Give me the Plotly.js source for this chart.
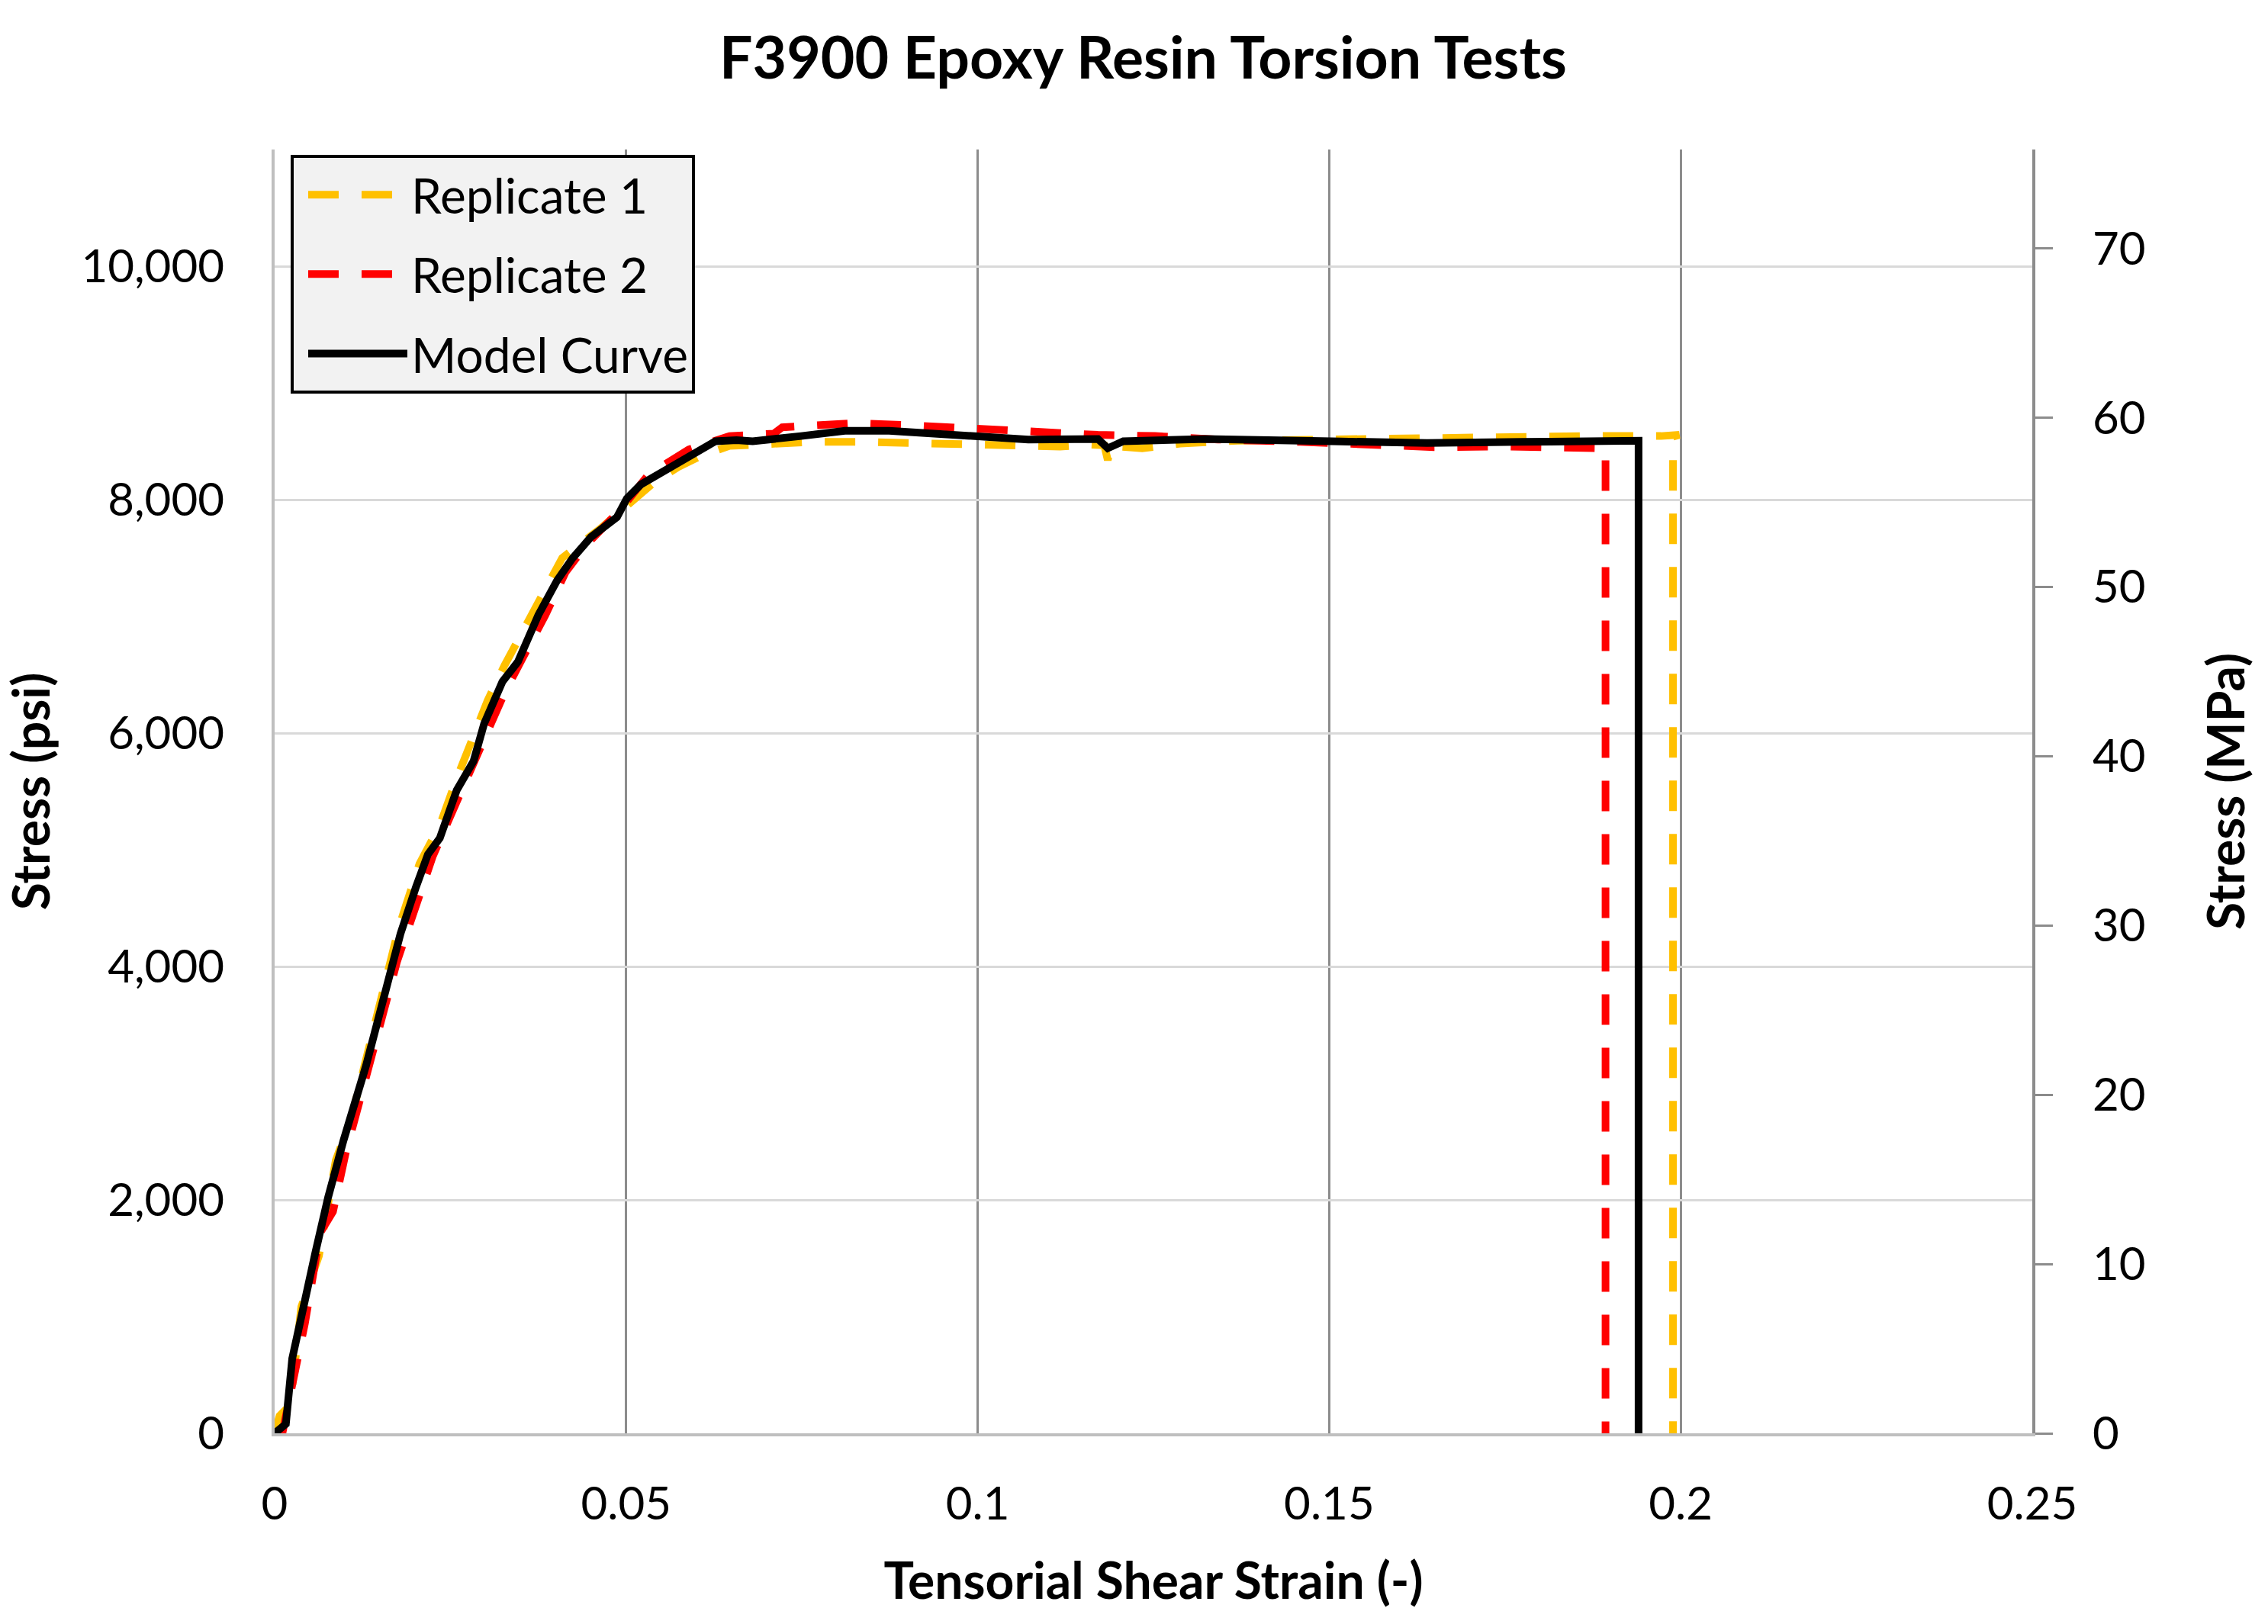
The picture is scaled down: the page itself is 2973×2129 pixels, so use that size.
<!DOCTYPE html>
<html><head><meta charset="utf-8">
<script src="https://cdn.plot.ly/plotly-3.0.1.min.js"></script>
<style>html,body{margin:0;padding:0;background:#fff}#chart{width:2973px;height:2129px}</style>
</head><body><div id="chart"></div>
<script>
// ---- data ----
const chartTitle = "F3900 Epoxy Resin Torsion Tests";
const xTitle = "Tensorial Shear Strain (-)";
const yTitle = "Stress (psi)";
const y2Title = "Stress (MPa)";
const seriesNames = ["Replicate 1", "Replicate 2", "Model Curve"];

const rep1Strain = [0, 0.0007, 0.0022, 0.0038, 0.0063, 0.0087, 0.0110, 0.0130, 0.0145, 0.0163, 0.0177, 0.0206, 0.0235, 0.0259, 0.0281, 0.0303, 0.0327, 0.0356, 0.0385, 0.0409, 0.0463, 0.0506, 0.0540, 0.0574, 0.0608, 0.0647, 0.0705, 0.0766, 0.0837, 0.0928, 0.1009, 0.1063, 0.1117, 0.1162, 0.1180, 0.1185, 0.1190, 0.1234, 0.1288, 0.1370, 0.1504, 0.1684, 0.1864, 0.1972, 0.1998, 0.1989, 0.1989];
const rep1Stress = [0, 150, 240, 1085, 1520, 2340, 2720, 3210, 3590, 4060, 4340, 4880, 5210, 5610, 5950, 6280, 6580, 6910, 7250, 7500, 7750, 7980, 8150, 8280, 8380, 8460, 8480, 8495, 8495, 8480, 8470, 8455, 8455, 8470, 8465, 8340, 8460, 8440, 8480, 8505, 8520, 8530, 8545, 8545, 8555, 8540, 0];

const rep2Strain = [0, 0.0011, 0.0029, 0.0043, 0.0065, 0.0083, 0.0101, 0.0134, 0.0156, 0.0174, 0.0225, 0.0269, 0.0327, 0.0356, 0.0385, 0.0414, 0.0443, 0.0492, 0.0531, 0.0589, 0.0647, 0.0710, 0.0722, 0.0766, 0.0825, 0.0892, 0.0955, 0.1027, 0.1099, 0.1171, 0.1252, 0.1342, 0.1459, 0.1550, 0.1649, 0.1747, 0.1846, 0.1887, 0.1893, 0.1893];
const rep2Stress = [0, 0, 530, 940, 1720, 1900, 2400, 3150, 3620, 4040, 4945, 5545, 6345, 6680, 7010, 7380, 7610, 7915, 8210, 8430, 8545, 8565, 8620, 8635, 8655, 8640, 8620, 8590, 8575, 8555, 8545, 8515, 8495, 8475, 8450, 8455, 8450, 8450, 8440, 0];

const modelStrain = [0, 0.0016, 0.0025, 0.0036, 0.0058, 0.0076, 0.0098, 0.0130, 0.0159, 0.0179, 0.0201, 0.0218, 0.0235, 0.0245, 0.0259, 0.0283, 0.0298, 0.0324, 0.0346, 0.0375, 0.0402, 0.0424, 0.0450, 0.0487, 0.0501, 0.0521, 0.0560, 0.0598, 0.0627, 0.0657, 0.0680, 0.0749, 0.0811, 0.0874, 0.1000, 0.1072, 0.1171, 0.1185, 0.1207, 0.1324, 0.1504, 0.1639, 0.1774, 0.1936, 0.1940, 0.1940];
const modelStress = [0, 80, 640, 970, 1550, 2020, 2510, 3150, 3790, 4280, 4680, 4960, 5100, 5280, 5510, 5760, 6080, 6440, 6610, 7010, 7310, 7500, 7680, 7850, 8010, 8130, 8270, 8410, 8500, 8510, 8500, 8545, 8590, 8590, 8545, 8515, 8520, 8440, 8500, 8520, 8500, 8485, 8495, 8505, 8505, 0];

const xTickVals = [0, 0.05, 0.1, 0.15, 0.2, 0.25];
const xTickText = ["0", "0.05", "0.1", "0.15", "0.2", "0.25"];
const yTickVals = [0, 2000, 4000, 6000, 8000, 10000];
const y2TickVals = [0, 10, 20, 30, 40, 50, 60, 70];
const psiMax = 11000;
const psiToMPa = 0.00689476;

// ---- chart ----
const FONT = "Lato, 'Open Sans', sans-serif";
const traces = [
  {x: rep1Strain, y: rep1Stress, name: seriesNames[0], type: 'scatter', mode: 'lines', legendgroup: 'a',
   line: {color: '#FFC000', width: 10, dash: '40px,30px'}},
  {x: rep2Strain, y: rep2Stress, name: seriesNames[1], type: 'scatter', mode: 'lines', legendgroup: 'b',
   line: {color: '#FF0000', width: 10, dash: '40px,30px'}},
  {x: modelStrain, y: modelStress, name: seriesNames[2], type: 'scatter', mode: 'lines', legendgroup: 'c',
   line: {color: '#000000', width: 10}},
  // empty trace that only registers the secondary (MPa) axis
  {x: [], y: [], yaxis: 'y2', type: 'scatter', mode: 'lines', showlegend: false, hoverinfo: 'skip', legendgroup: 'd'}
];

const layout = {
  width: 2973, height: 2129,
  paper_bgcolor: '#ffffff', plot_bgcolor: '#ffffff',
  margin: {l: 360, r: 309, t: 196, b: 250},
  font: {family: FONT, color: '#000000', size: 60},
  title: {text: chartTitle, font: {family: FONT, size: 77, weight: 'bold', color: '#000'},
          xref: 'container', yref: 'container', x: 0.504, y: 0.9643, xanchor: 'center', yanchor: 'middle'},
  showlegend: true,
  legend: {x: 0.0091, y: 0.9958, xanchor: 'left', yanchor: 'top', bgcolor: '#f2f2f2',
           bordercolor: '#000000', borderwidth: 4, font: {family: FONT, size: 64, color: '#000'},
           tracegroupgap: 18, itemwidth: 130, indentation: 14, traceorder: 'grouped'},
  xaxis: {range: [0, 0.25], tickvals: xTickVals, ticktext: xTickText, showgrid: true, gridcolor: '#8c8c8c', gridwidth: 3,
          zeroline: false, showline: true, linecolor: '#bfbfbf', linewidth: 4, ticks: '', ticklabelstandoff: 37,
          tickfont: {family: FONT, size: 60, color: '#000'},
          title: {text: xTitle, font: {family: FONT, size: 66, weight: 'bold', color: '#000'}, standoff: 47}},
  yaxis: {range: [0, psiMax], tickvals: yTickVals, tickformat: ',d', showgrid: true, gridcolor: '#d9d9d9', gridwidth: 3,
          zeroline: false, showline: true, linecolor: '#bfbfbf', linewidth: 4, ticks: '', ticklabelstandoff: 50,
          tickfont: {family: FONT, size: 60, color: '#000'},
          title: {text: yTitle, font: {family: FONT, size: 66, weight: 'bold', color: '#000'}, standoff: 49}},
  yaxis2: {overlaying: 'y', side: 'right', anchor: 'x', range: [0, psiMax * psiToMPa], tickvals: y2TickVals,
           showgrid: false, zeroline: false, showline: true, linecolor: '#8c8c8c', linewidth: 4,
           ticks: 'outside', ticklen: 23, tickwidth: 3, tickcolor: '#8c8c8c', ticklabelstandoff: 40,
           tickfont: {family: FONT, size: 60, color: '#000'},
           title: {text: y2Title, font: {family: FONT, size: 66, weight: 'bold', color: '#000'}, standoff: 85}}
};

Plotly.newPlot('chart', traces, layout, {staticPlot: true, displayModeBar: false});
</script>
</body></html>
